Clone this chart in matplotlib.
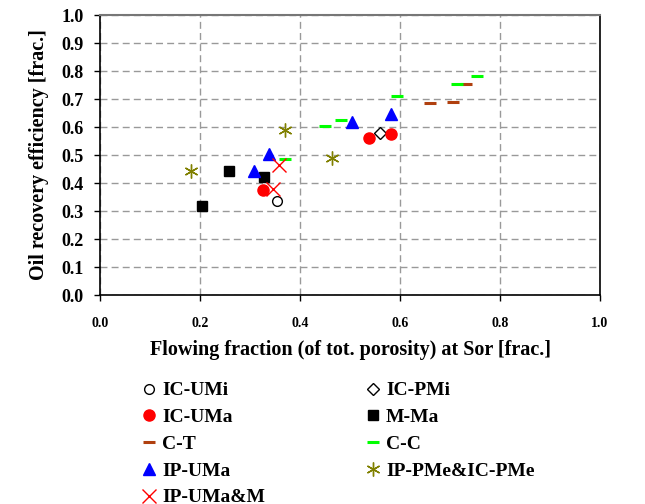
import matplotlib
matplotlib.use("Agg")
import matplotlib.pyplot as plt

# data
ic_umi_x = [0.353]
ic_umi_y = [0.337]
ic_pmi_x = [0.559]
ic_pmi_y = [0.580]
ic_uma_x = [0.325, 0.537, 0.582]
ic_uma_y = [0.375, 0.562, 0.574]
m_ma_x = [0.204, 0.257, 0.327]
m_ma_y = [0.318, 0.442, 0.421]
c_t_x = [0.660, 0.705, 0.731]
c_t_y = [0.686, 0.689, 0.755]
c_c_x = [0.369, 0.449, 0.481, 0.593, 0.713, 0.754]
c_c_y = [0.487, 0.604, 0.624, 0.712, 0.755, 0.782]
ip_uma_x = [0.308, 0.338, 0.504, 0.581]
ip_uma_y = [0.442, 0.504, 0.619, 0.646]
ip_pme_x = [0.181, 0.370, 0.463]
ip_pme_y = [0.443, 0.590, 0.489]
ip_umam_x = [0.358, 0.345]
ip_umam_y = [0.464, 0.380]

ticks = [0.0, 0.1, 0.2, 0.3, 0.4, 0.5, 0.6, 0.7, 0.8, 0.9, 1.0]
xticks = [0.0, 0.2, 0.4, 0.6, 0.8, 1.0]

plt.rcParams["font.family"] = ["Liberation Serif", "DejaVu Serif"]
plt.rcParams["font.weight"] = "bold"

fig = plt.figure(figsize=(6.45, 5.04), dpi=100)
ax = fig.add_axes([100 / 645, 1 - 295 / 504, 500 / 645, 280 / 504])

h = {}
h["IC-UMi"], = ax.plot(ic_umi_x, ic_umi_y, "o", ls="none", mfc="white", mec="black", ms=7, mew=1)
h["IC-PMi"], = ax.plot(ic_pmi_x, ic_pmi_y, "D", ls="none", mfc="white", mec="black", ms=6, mew=1)
h["IC-UMa"], = ax.plot(ic_uma_x, ic_uma_y, "o", ls="none", color="#ff0000", ms=8)
h["M-Ma"], = ax.plot(m_ma_x, m_ma_y, "s", ls="none", color="black", ms=7.5)
h["C-T"], = ax.plot(c_t_x, c_t_y, "_", ls="none", color="#b0400f", ms=8, mew=2.2)
h["C-C"], = ax.plot(c_c_x, c_c_y, "_", ls="none", color="#00ff00", ms=9, mew=2.2)
h["IP-UMa"], = ax.plot(ip_uma_x, ip_uma_y, "^", ls="none", color="#0000ff", ms=9)
h["IP-PMe&IC-PMe"], = ax.plot(ip_pme_x, ip_pme_y, marker=(6, 2, 0), ls="none", color="#808000", ms=10, mew=1)
h["IP-UMa&M"], = ax.plot(ip_umam_x, ip_umam_y, "x", ls="none", color="#ff0000", ms=10, mew=1)

ax.set_xlim(0, 1)
ax.set_ylim(0, 1)
ax.set_xticks(xticks)
ax.set_yticks(ticks)
ax.set_xticklabels([f"{t:.1f}" for t in xticks], fontsize=10, fontweight="bold")
ax.set_yticklabels([f"{t:.1f}" for t in ticks], fontsize=13, fontweight="bold")
ax.tick_params(direction="out", length=4, width=1, colors="black")
ax.tick_params(axis="x", pad=12)
ax.tick_params(axis="y", pad=8)
ax.grid(True, color="#999999", ls=(0, (5, 3)), lw=1)
ax.set_axisbelow(True)
ax.spines["top"].set_color("#777777")
ax.spines["top"].set_linewidth(1.5)
for s in ["left", "bottom", "right"]:
    ax.spines[s].set_linewidth(1.2)

ax.set_xlabel("Flowing fraction (of tot. porosity) at Sor [frac.]", fontsize=14.5, fontweight="bold", labelpad=7)
ax.set_ylabel("Oil recovery efficiency [frac.]", fontsize=14.5, fontweight="bold", labelpad=9)

order = ["IC-UMi", "IC-UMa", "C-T", "IP-UMa", "IP-UMa&M",
         "IC-PMi", "M-Ma", "C-C", "IP-PMe&IC-PMe"]
fig.legend([h[k] for k in order], order, ncol=2, loc="upper left",
           bbox_to_anchor=(135.4 / 645, 1 - 374 / 504), frameon=False,
           prop={"family": "Liberation Serif", "weight": "bold", "size": 14},
           handlelength=0.6, handletextpad=0.37, labelspacing=0.47,
           columnspacing=5.25, borderaxespad=0)

fig.savefig("out.png", dpi=100)
